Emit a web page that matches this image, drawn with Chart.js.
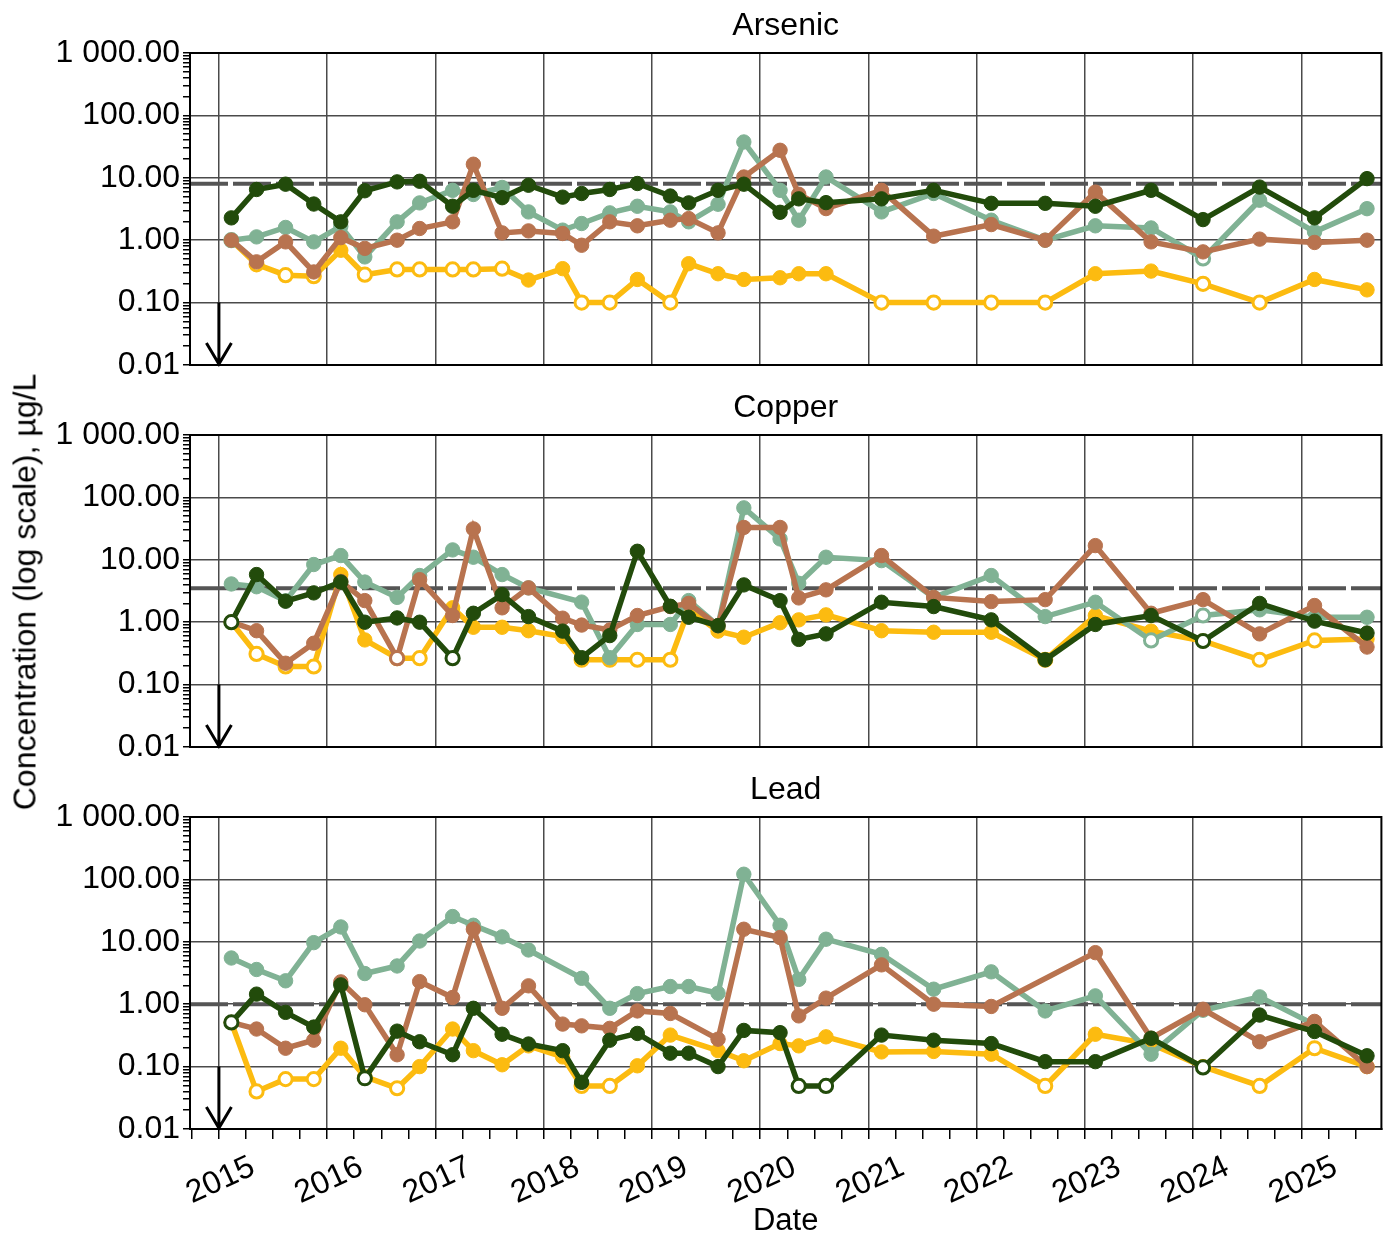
<!DOCTYPE html>
<html>
<head>
<meta charset="utf-8">
<script src="https://cdn.jsdelivr.net/npm/chart.js@4.4.1/dist/chart.umd.min.js"></script>
<style>
  body { margin: 0; background: #fff; width: 1391px; height: 1235px; position: relative; overflow: hidden;
         font-family: "Liberation Sans", Arial, sans-serif; }
  canvas { position: absolute; left: 0; }
  #ytitle { position: absolute; left: 25px; top: 592px; transform: translate(-50%, -50%) rotate(-90deg);
            font-size: 32px; white-space: nowrap; color: #000; }
</style>
</head>
<body>
<canvas id="arsenic" width="1391" height="390" style="top:0"></canvas>
<canvas id="copper" width="1391" height="390" style="top:382px"></canvas>
<canvas id="lead" width="1391" height="471" style="top:764px"></canvas>
<div id="ytitle">Concentration (log scale), µg/L</div>
<script>
// sampling dates (shared by all series)
const sampleDates = [
  '2015-02-12', '2015-05-08', '2015-08-14', '2015-11-17',
  '2016-02-16', '2016-05-07', '2016-08-24', '2016-11-08',
  '2017-02-28', '2017-05-09', '2017-08-14', '2017-11-11',
  '2018-03-06', '2018-05-09', '2018-08-12', '2018-11-13',
  '2019-03-04', '2019-05-05', '2019-08-12', '2019-11-07',
  '2020-03-08', '2020-05-10', '2020-08-10', '2021-02-14',
  '2021-08-09', '2022-02-19', '2022-08-20', '2023-02-05',
  '2023-08-12', '2024-02-03', '2024-08-12', '2025-02-14', '2025-08-10'
];

// Arsenic, µg/L
const arsenicA = [2.28, 6.5, 7.9, 3.8, 1.97, 6.2, 8.6, 8.8, 3.5, 6.3, 4.8, 7.6, 4.9, 5.6, 6.5, 8.1, 5.1, 3.96, 6.3, 7.9, 2.8, 4.6, 4.0, 4.6, 6.3, 3.9, 3.9, 3.5, 6.3, 2.14, 7.1, 2.28, 9.7];
const arsenicB = [1.0, 1.13, 1.6, 0.94, 1.67, 0.54, 1.97, 3.96, 6.3, 5.4, 7.0, 2.84, 1.45, 1.85, 2.74, 3.5, 2.84, 1.97, 3.77, 37.5, 6.3, 2.09, 10.3, 2.84, 5.6, 2.09, 1.0, 1.7, 1.57, 0.51, 4.37, 1.36, 3.2];
const arsenicC = [1.0, 0.45, 0.94, 0.31, 1.1, 0.74, 1.0, 1.54, 1.97, 16.5, 1.31, 1.41, 1.28, 0.83, 1.97, 1.7, 2.09, 2.22, 1.31, 10.3, 27.6, 5.45, 3.21, 6.3, 1.16, 1.78, 1.0, 5.9, 0.94, 0.65, 1.04, 0.92, 1.0];
const arsenicD = [1.0, 0.41, 0.275, 0.265, 0.69, 0.28, 0.34, 0.34, 0.34, 0.34, 0.35, 0.23, 0.35, 0.1, 0.1, 0.235, 0.1, 0.42, 0.29, 0.235, 0.25, 0.29, 0.29, 0.1, 0.1, 0.1, 0.1, 0.29, 0.32, 0.2, 0.1, 0.235, 0.16];
const arsenicNdA = [];
const arsenicNdB = [0, 29];
const arsenicNdC = [];
const arsenicNdD = [1, 2, 3, 5, 6, 7, 8, 9, 10, 13, 14, 16, 23, 24, 25, 26, 29, 30];

// Copper, µg/L
const copperA = [1.0, 5.8, 2.17, 2.95, 4.4, 1.0, 1.17, 1.0, 0.265, 1.39, 2.77, 1.23, 0.72, 0.27, 0.61, 13.7, 1.8, 1.2, 0.88, 3.96, 2.22, 0.53, 0.65, 2.09, 1.78, 1.09, 0.25, 0.92, 1.28, 0.5, 2.0, 1.04, 0.67];
const copperB = [4.1, 3.7, 2.2, 8.4, 11.7, 4.4, 2.5, 5.6, 14.4, 11.0, 5.8, 3.55, null, 2.1, 0.27, 0.92, 0.92, 2.22, 0.88, 68, 21.6, 4.2, 11.0, 9.7, 2.5, 5.6, 1.23, 2.09, 0.51, 1.28, 1.58, 1.2, 1.2];
const copperC = [1.0, 0.73, 0.22, 0.46, 4.5, 2.22, 0.265, 4.8, 1.28, 31.3, 1.7, 3.55, 1.16, 0.9, 0.75, 1.28, 1.78, 2.0, 0.88, 33, 33, 2.45, 3.3, 11.7, 2.5, 2.14, 2.3, 16.9, 1.39, 2.3, 0.65, 1.85, 0.4];
const copperD = [1.0, 0.31, 0.195, 0.195, 5.8, 0.52, 0.265, 0.265, 1.7, 0.83, 0.83, 0.73, 0.59, 0.25, 0.25, 0.25, 0.25, 1.58, 0.72, 0.575, 0.98, 1.09, 1.31, 0.73, 0.69, 0.69, 0.25, 1.28, 0.72, 0.5, 0.25, 0.51, 0.54];
const copperNdA = [0, 8, 29];
const copperNdB = [28, 29];
const copperNdC = [6];
const copperNdD = [1, 2, 3, 6, 7, 13, 14, 15, 16, 26, 30, 31];

// Lead, µg/L
const leadA = [0.51, 1.45, 0.74, 0.43, 2.04, 0.065, 0.37, 0.25, 0.155, 0.86, 0.33, 0.23, 0.18, 0.056, 0.265, 0.34, 0.164, 0.164, 0.1, 0.38, 0.35, 0.049, 0.049, 0.32, 0.265, 0.234, 0.12, 0.12, 0.285, 0.097, 0.67, 0.365, 0.149];
const leadB = [5.5, 3.6, 2.37, 9.7, 17.3, 3.1, 4.1, 10.3, 25.4, 18.4, 12.0, 7.4, null, 2.6, 0.86, 1.48, 1.92, 1.92, 1.5, 121, 18.4, 2.5, 11.0, 6.3, 1.74, 3.3, 0.78, 1.36, 0.158, 0.8, 1.31, 0.47, null];
const leadC = [0.51, 0.4, 0.197, 0.265, 2.28, 0.98, 0.155, 2.3, 1.28, 15.9, 0.86, 1.97, 0.48, 0.45, 0.41, 0.78, 0.71, null, 0.275, 15.9, 11.7, 0.65, 1.25, 4.27, 1.0, 0.92, null, 6.7, 0.285, 0.83, 0.25, 0.53, 0.1];
const leadD = [0.51, 0.04, 0.063, 0.063, 0.197, 0.069, 0.045, 0.1, 0.4, 0.18, 0.107, 0.215, 0.143, 0.049, 0.049, 0.103, 0.32, null, 0.18, 0.124, 0.234, 0.215, 0.3, 0.172, 0.175, 0.158, 0.049, 0.33, 0.23, 0.1, 0.049, 0.197, 0.1];
const leadNdA = [0, 5, 21, 22, 29];
const leadNdB = [];
const leadNdC = [];
const leadNdD = [1, 2, 3, 6, 13, 14, 26, 30, 31];

// guideline values (dashed lines)
const guidelines = [8.0, 3.5, 1.0];
const panelTitles = ['Arsenic', 'Copper', 'Lead'];
const seriesColors = ['#224b0b', '#80b294', '#b8734f', '#fcbb10'];
const yearTicks = [2015, 2016, 2017, 2018, 2019, 2020, 2021, 2022, 2023, 2024, 2025];

const FONT = '"Liberation Sans", Arial, sans-serif';
const X_MIN = 2014.733;
const X_MAX = 2025.738;
const GRID = '#4a4a4a';

const toYear = (s) => {
  const [y, m, d] = s.split('-').map(Number);
  return y + (Date.UTC(y, m - 1, d) - Date.UTC(y, 0, 1)) / (365.25 * 864e5);
};
const xYears = sampleDates.map(toYear);

const isDecade = (v) => Math.abs(Math.log10(v) - Math.round(Math.log10(v))) < 1e-9;
const isYear = (v) => Math.abs(v - Math.round(v)) < 1e-6;

function fmtConc(v) {
  const s = v.toFixed(2);
  const [int, dec] = s.split('.');
  return int.replace(/\B(?=(\d{3})+(?!\d))/g, ' ') + '.' + dec;
}

function makeSeries(values, nd, color, order) {
  return {
    data: values.map((v, i) => ({ x: xYears[i], y: v })),
    borderColor: color,
    borderWidth: 5.5,
    pointRadius: values.map((v, i) => nd.includes(i) ? 6.6 : 7.2),
    pointBackgroundColor: values.map((v, i) => nd.includes(i) ? '#ffffff' : color),
    pointBorderColor: color,
    pointBorderWidth: values.map((v, i) => nd.includes(i) ? 3 : 1),
    spanGaps: true,
    tension: 0,
    order
  };
}

function guideline(value) {
  return {
    data: [{ x: X_MIN, y: value }, { x: X_MAX, y: value }],
    borderColor: '#555555',
    borderWidth: 4,
    borderDash: [38, 5],
    pointRadius: 0,
    order: 10
  };
}

// frame round the plot and the "below detection" arrow at 2015
const framePlugin = {
  id: 'frameAndArrow',
  afterDatasetsDraw(chart) {
    const { ctx, chartArea: a, scales: { x, y } } = chart;
    ctx.save();
    ctx.strokeStyle = '#000';
    ctx.lineWidth = 2;
    ctx.strokeRect(a.left, a.top, a.right - a.left, a.bottom - a.top);

    const px = x.getPixelForValue(2015);
    const y0 = y.getPixelForValue(0.1);
    const y1 = y.getPixelForValue(0.01) - 1;
    ctx.lineWidth = 3;
    ctx.beginPath();
    ctx.moveTo(px, y0);
    ctx.lineTo(px, y1);
    ctx.moveTo(px - 12.5, y1 - 21);
    ctx.lineTo(px, y1);
    ctx.lineTo(px + 12.5, y1 - 21);
    ctx.stroke();
    ctx.restore();
  }
};

function buildChart(canvasId, idx, series, nds, isBottom) {
  const datasets = [
    makeSeries(series[0], nds[0], seriesColors[0], 1),
    makeSeries(series[2], nds[2], seriesColors[2], 2),
    makeSeries(series[1], nds[1], seriesColors[1], 3),
    makeSeries(series[3], nds[3], seriesColors[3], 4),
    guideline(guidelines[idx])
  ];

  return new Chart(document.getElementById(canvasId), {
    type: 'line',
    data: { datasets },
    plugins: [framePlugin],
    options: {
      responsive: false,
      animation: false,
      layout: { padding: { left: 0, right: 8, top: 0, bottom: 0 } },
      plugins: {
        legend: { display: false },
        tooltip: { enabled: false },
        title: {
          display: true,
          fullSize: false,
          text: panelTitles[idx],
          color: '#000',
          font: { family: FONT, size: 32, weight: 'normal', lineHeight: 1.2 },
          padding: { top: 7, bottom: 7.6 }
        }
      },
      scales: {
        x: {
          type: 'linear',
          min: X_MIN,
          max: X_MAX,
          afterBuildTicks: (scale) => {
            const ticks = [];
            for (let q = 2014.75; q <= X_MAX + 1e-9; q += 0.25) ticks.push({ value: q });
            scale.ticks = ticks;
          },
          afterFit: (scale) => { scale.height = isBottom ? 106 : 25; },
          grid: {
            color: (c) => (c.tick && isYear(c.tick.value) && yearTicks.includes(Math.round(c.tick.value))) ? GRID : 'rgba(0,0,0,0)',
            lineWidth: 1.5,
            drawTicks: isBottom,
            tickColor: '#000',
            tickWidth: 1.5,
            tickLength: 10
          },
          border: { display: true, color: '#000', width: 2 },
          ticks: {
            display: isBottom,
            autoSkip: false,
            minRotation: 25,
            maxRotation: 25,
            labelOffset: 34,
            padding: 9,
            color: '#000',
            font: { family: FONT, size: 32 },
            callback: (v) => isYear(v) ? String(Math.round(v)) : ''
          },
          title: {
            display: isBottom,
            text: 'Date',
            color: '#000',
            font: { family: FONT, size: 31, lineHeight: 0.85 },
            padding: { top: 0, bottom: 0 }
          }
        },
        y: {
          type: 'logarithmic',
          min: 0.01,
          max: 1000,
          afterBuildTicks: (scale) => {
            const ticks = [];
            for (let e = -2; e <= 3; e++) {
              for (let m = 1; m <= 9; m++) {
                const v = m * Math.pow(10, e);
                if (v <= 1000 + 1e-9) ticks.push({ value: parseFloat(v.toPrecision(6)) });
              }
            }
            scale.ticks = ticks;
          },
          afterFit: (scale) => { scale.width = 190; },
          grid: {
            color: (c) => (c.tick && isDecade(c.tick.value)) ? GRID : 'rgba(0,0,0,0)',
            lineWidth: 1.5,
            tickColor: '#000',
            tickWidth: 1.5,
            tickLength: 7
          },
          border: { display: true, color: '#000', width: 2 },
          ticks: {
            autoSkip: false,
            padding: 3,
            color: '#000',
            font: { family: FONT, size: 32, lineHeight: 1 },
            callback: (v) => isDecade(v) ? fmtConc(v) : ''
          }
        }
      }
    }
  });
}

buildChart('arsenic', 0, [arsenicA, arsenicB, arsenicC, arsenicD], [arsenicNdA, arsenicNdB, arsenicNdC, arsenicNdD], false);
buildChart('copper', 1, [copperA, copperB, copperC, copperD], [copperNdA, copperNdB, copperNdC, copperNdD], false);
buildChart('lead', 2, [leadA, leadB, leadC, leadD], [leadNdA, leadNdB, leadNdC, leadNdD], true);
</script>
</body>
</html>
